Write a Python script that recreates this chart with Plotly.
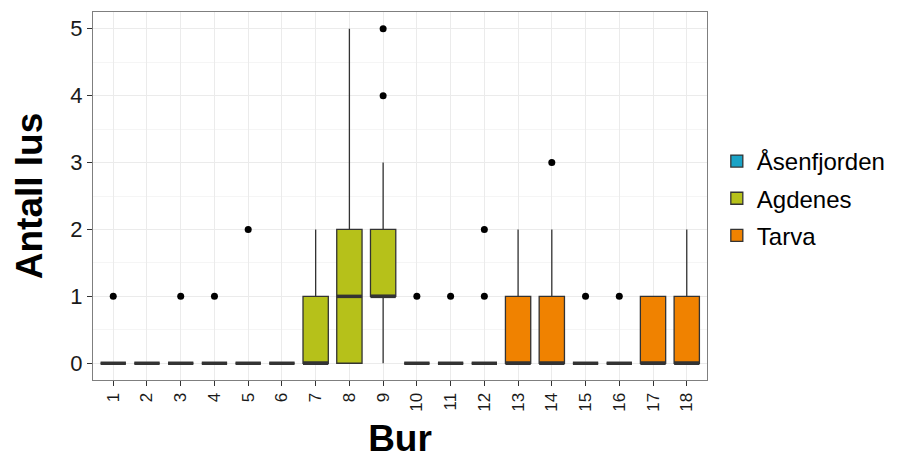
import plotly.graph_objects as go

# Cage numbers and the site each cage belongs to
bur = list(range(1, 19))
sites = ["Åsenfjorden", "Agdenes", "Tarva"]
site_of_bur = ["Åsenfjorden"] * 6 + ["Agdenes"] * 6 + ["Tarva"] * 6
site_colors = {"Åsenfjorden": "#1aa3c6", "Agdenes": "#b6c11a", "Tarva": "#f08200"}

# Box statistics per cage (lice count)
q1 = [0, 0, 0, 0, 0, 0, 0, 0, 1, 0, 0, 0, 0, 0, 0, 0, 0, 0]
median = [0, 0, 0, 0, 0, 0, 0, 1, 1, 0, 0, 0, 0, 0, 0, 0, 0, 0]
q3 = [0, 0, 0, 0, 0, 0, 1, 2, 2, 0, 0, 0, 1, 1, 0, 0, 1, 1]
lower = [0, 0, 0, 0, 0, 0, 0, 0, 0, 0, 0, 0, 0, 0, 0, 0, 0, 0]
upper = [0, 0, 0, 0, 0, 0, 2, 5, 3, 0, 0, 0, 2, 2, 0, 0, 1, 2]

# Outlying observations (cage, count)
outlier_bur = [1, 3, 4, 5, 9, 9, 10, 11, 12, 12, 14, 15, 16]
outlier_val = [1, 1, 1, 2, 4, 5, 1, 1, 1, 2, 3, 1, 1]

box_width = 0.75
edge = "#333333"
font = "Liberation Sans, Arial, sans-serif"

fig = go.Figure()

for s in sites:
    idx = [i for i, v in enumerate(site_of_bur) if v == s]
    fig.add_trace(go.Box(
        x=[bur[i] for i in idx],
        q1=[q1[i] for i in idx],
        median=[median[i] for i in idx],
        q3=[q3[i] for i in idx],
        lowerfence=[lower[i] for i in idx],
        upperfence=[upper[i] for i in idx],
        width=box_width,
        whiskerwidth=0,
        boxpoints=False,
        fillcolor=site_colors[s],
        line=dict(color=edge, width=1.3),
        name=s,
        legendgroup=s,
        hoverinfo="skip",
    ))

# Thicker median segments, as in ggplot's fattened median line
mx, my = [], []
for b, m in zip(bur, median):
    mx += [b - box_width / 2, b + box_width / 2, None]
    my += [m, m, None]
fig.add_trace(go.Scatter(x=mx, y=my, mode="lines",
                         line=dict(color=edge, width=3.5),
                         showlegend=False, hoverinfo="skip"))

fig.add_trace(go.Scatter(x=outlier_bur, y=outlier_val, mode="markers",
                         marker=dict(color="black", size=7),
                         showlegend=False, hoverinfo="skip"))

fig.update_layout(
    width=899, height=459,
    margin=dict(l=93, r=192, t=12, b=79, autoexpand=False),
    paper_bgcolor="white", plot_bgcolor="white",
    boxmode="overlay",
    font=dict(family=font, color="black"),
    showlegend=True,
    legend=dict(x=1.016, y=0.655, xanchor="left", yanchor="top",
                font=dict(size=24, color="black"),
                bgcolor="rgba(0,0,0,0)", tracegroupgap=3),
    xaxis=dict(
        range=[0.4, 18.6], tickmode="array", tickvals=bur,
        ticktext=[str(b) for b in bur], tickangle=-90,
        tickfont=dict(size=17, color="#1a1a1a"),
        ticks="outside", ticklen=5, tickcolor=edge,
        showgrid=True, gridcolor="#ebebeb", gridwidth=1,
        showline=True, linecolor="#7f7f7f", linewidth=1.2, mirror=True,
        zeroline=False,
        title=dict(text="<b>Bur</b>", font=dict(size=37), standoff=14),
    ),
    yaxis=dict(
        range=[-0.25, 5.25], tickmode="array", tickvals=[0, 1, 2, 3, 4, 5],
        tickfont=dict(size=22, color="#1a1a1a"),
        ticks="outside", ticklen=5, tickcolor=edge,
        showgrid=True, gridcolor="#ebebeb", gridwidth=1,
        minor=dict(tickvals=[0.5, 1.5, 2.5, 3.5, 4.5], showgrid=True,
                   gridcolor="#f5f5f5", gridwidth=1, ticks=""),
        showline=True, linecolor="#7f7f7f", linewidth=1.2, mirror=True,
        zeroline=False,
        title=dict(text="<b>Antall lus</b>", font=dict(size=37), standoff=16),
    ),
)

fig.write_html("out.html")
